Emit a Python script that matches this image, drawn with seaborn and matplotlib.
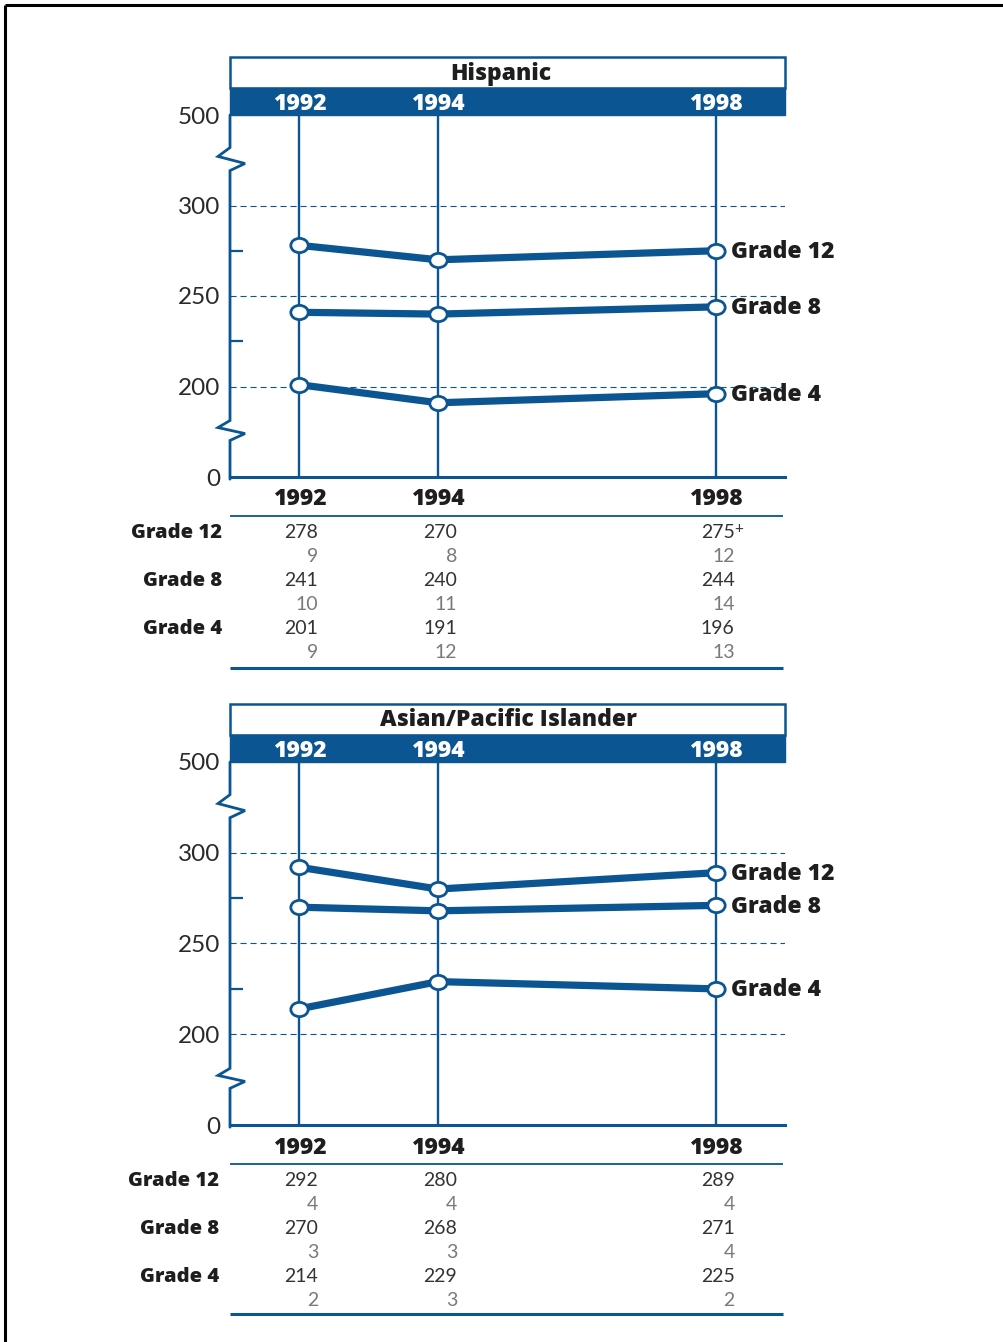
import numpy as np
import pandas as pd
import matplotlib
matplotlib.use("Agg")
import matplotlib.pyplot as plt
import matplotlib.transforms as mtransforms
from matplotlib.path import Path
from matplotlib.patches import Rectangle
import seaborn as sns

# ---------------- data ----------------
years = [1992, 1994, 1998]
grades = ["Grade 12", "Grade 8", "Grade 4"]

hisp_title = "Hispanic"
hisp_g12 = [278, 270, 275]
hisp_g8 = [241, 240, 244]
hisp_g4 = [201, 191, 196]
hisp_se_g12 = [9, 8, 12]
hisp_se_g8 = [10, 11, 14]
hisp_se_g4 = [9, 12, 13]
hisp_flag_g12 = ["", "", "+"]

asian_title = "Asian/Pacific Islander"
asian_g12 = [292, 280, 289]
asian_g8 = [270, 268, 271]
asian_g4 = [214, 229, 225]
asian_se_g12 = [4, 4, 4]
asian_se_g8 = [3, 3, 4]
asian_se_g4 = [2, 3, 2]

ytick_pos = [150, 200, 250, 300, 350]
ytick_labels = ["0", "200", "250", "300", "500"]
grid_vals = [200, 250, 300]
minor_ticks = [225, 275]

# ---------------- style ----------------
sns.set_theme(style="white")
plt.rcParams["font.family"] = ["Lato", "DejaVu Sans"]
BOLD = ["Open Sans", "Lato", "DejaVu Sans"]
NUM = ["Lato", "DejaVu Sans"]

BLUE = "#0b5592"
DARK = "#1e1e1e"
VAL = "#333333"
SE = "#7a7a7a"

W, H = 1004, 1342
fig = plt.figure(figsize=(W / 100, H / 100), dpi=100)
fig.patch.set_facecolor("white")

over = fig.add_axes([0, 0, 1, 1], zorder=0)
over.set_xlim(0, W)
over.set_ylim(H, 0)
over.axis("off")

# outer frame (top & left)
over.plot([5, W], [5, 5], color="black", lw=2.2, solid_capstyle="butt")
over.plot([5, 5], [5, H], color="black", lw=2.2, solid_capstyle="butt")


def frac(x0, y0, x1, y1):
    return [x0 / W, 1 - y1 / H, (x1 - x0) / W, (y1 - y0) / H]


ell = Path.unit_circle().transformed(mtransforms.Affine2D().scale(1, 0.82))

panels = [
    dict(title=hisp_title, vals=[hisp_g12, hisp_g8, hisp_g4],
         ses=[hisp_se_g12, hisp_se_g8, hisp_se_g4],
         flags=[hisp_flag_g12, ["", "", ""], ["", "", ""]],
         htop=57, btop=88, ptop=115, pbot=477, yrs=499, l1=516, row0=533,
         lbot=668, labx=222, title_x=501),
    dict(title=asian_title, vals=[asian_g12, asian_g8, asian_g4],
         ses=[asian_se_g12, asian_se_g8, asian_se_g4],
         flags=[["", "", ""]] * 3,
         htop=704, btop=735, ptop=762, pbot=1125, yrs=1148, l1=1164, row0=1181,
         lbot=1314, labx=219, title_x=508),
]

X0, X1 = 230, 785

for p in panels:
    ax = fig.add_axes(frac(X0, p["ptop"], X1, p["pbot"]), zorder=2)
    ax.patch.set_alpha(0)
    ax.set_xlim(1991.0, 1999.0)
    ax.set_ylim(150, 350)

    rows = []
    for g, v in zip(grades, p["vals"]):
        for yr, s in zip(years, v):
            rows.append(dict(year=yr, score=s, grade=g))
    df = pd.DataFrame(rows)

    ax.hlines(grid_vals, 1991.0, 1999.0, colors=BLUE, lw=0.8,
              linestyles=(0, (5.5, 3.5)), zorder=1)
    ax.vlines(years, 150, 350, colors=BLUE, lw=1.7, zorder=2)

    sns.lineplot(data=df, x="year", y="score", hue="grade",
                 palette={g: BLUE for g in grades}, errorbar=None,
                 legend=False, sort=False, ax=ax, lw=5.2,
                 marker=ell, markersize=12.5, markerfacecolor="white",
                 markeredgecolor=BLUE, markeredgewidth=2.0, zorder=5)
    for ln in ax.lines:
        ln.set_markerfacecolor("white")
        ln.set_markeredgecolor(BLUE)
        ln.set_solid_capstyle("butt")

    for s in ["top", "right", "left"]:
        ax.spines[s].set_visible(False)
    ax.spines["bottom"].set_color(BLUE)
    ax.spines["bottom"].set_linewidth(2.2)
    ax.set_xticks([])
    ax.set_xlabel("")
    ax.set_ylabel("")
    ax.set_yticks(ytick_pos)
    ax.set_yticklabels(ytick_labels)
    ax.set_yticks(minor_ticks, minor=True)
    ax.tick_params(axis="y", which="major", length=0, pad=7,
                   labelsize=17.5, labelcolor="#2a2a2a")
    for t in ax.get_yticklabels():
        t.set_fontfamily(NUM)
        t.set_fontweight("normal")
    ax.tick_params(axis="y", which="minor", left=True, direction="in",
                   length=9.5, width=1.6, color=BLUE)

    bt = mtransforms.blended_transform_factory(ax.transAxes, ax.transData)
    zx = [0, 0, -0.0216, 0.027, 0, 0, -0.0216, 0.027, 0, 0]
    zy = [350, 332, 327.1, 323.2, 319.3, 181.2, 177.3, 174.0, 170.2, 148.8]
    ax.plot(zx, zy, transform=bt, color=BLUE, lw=2.0, clip_on=False,
            solid_joinstyle="miter", zorder=3)

    for g, v in zip(grades, p["vals"]):
        ax.annotate(g, xy=(years[-1], v[-1]), xytext=(15, -1.5),
                    textcoords="offset pixels", ha="left", va="center",
                    fontsize=16.5, fontweight="heavy", family=BOLD,
                    color=DARK, annotation_clip=False)

    over.add_patch(Rectangle((X0, p["htop"]), X1 - X0, p["btop"] - p["htop"],
                             fc="white", ec=BLUE, lw=1.8))
    over.add_patch(Rectangle((X0, p["btop"]), X1 - X0, p["ptop"] - p["btop"],
                             fc=BLUE, ec=BLUE, lw=1.0))
    over.text(p["title_x"], (p["htop"] + p["btop"]) / 2 + 1, p["title"],
              ha="center", va="center", fontsize=16.5, fontweight="heavy",
              family=BOLD, color=DARK)

    mix = mtransforms.blended_transform_factory(ax.transData, over.transData)
    for yr in years:
        over.text(yr, (p["btop"] + p["ptop"]) / 2 + 2.5, str(yr),
                  transform=mix, ha="center", va="center", fontsize=16.5,
                  fontweight="heavy", family=BOLD, color="white")
        over.text(yr, p["yrs"], str(yr), transform=mix, ha="center",
                  va="center", fontsize=16.5, fontweight="heavy",
                  family=BOLD, color=DARK)

    over.plot([X0, X1 - 2], [p["l1"], p["l1"]], color=BLUE, lw=1.3,
              solid_capstyle="butt")
    over.plot([X0, X1 - 2], [p["lbot"], p["lbot"]], color=BLUE, lw=2.2,
              solid_capstyle="butt")
    shift = mix + mtransforms.ScaledTranslation(19 / 100, 0,
                                                fig.dpi_scale_trans)
    for i, (g, v, se, fl) in enumerate(zip(grades, p["vals"], p["ses"],
                                           p["flags"])):
        yv = p["row0"] + i * 48
        ys = yv + 24
        over.text(p["labx"], yv, g, ha="right", va="center", fontsize=14.5,
                  fontweight="heavy", family=BOLD, color=DARK)
        for yr, val, s, f in zip(years, v, se, fl):
            over.text(yr, yv, str(val), transform=shift, ha="right",
                      va="center", fontsize=14, family=NUM,
                      fontweight="normal", color=VAL)
            over.text(yr, ys, str(s), transform=shift, ha="right",
                      va="center", fontsize=14, family=NUM,
                      fontweight="normal", color=SE)
            if f:
                over.text(yr, yv - 4, f, transform=shift, ha="left",
                          va="center", fontsize=11, family=NUM, color=VAL)

fig.savefig("out.png", dpi=100, facecolor="white")
